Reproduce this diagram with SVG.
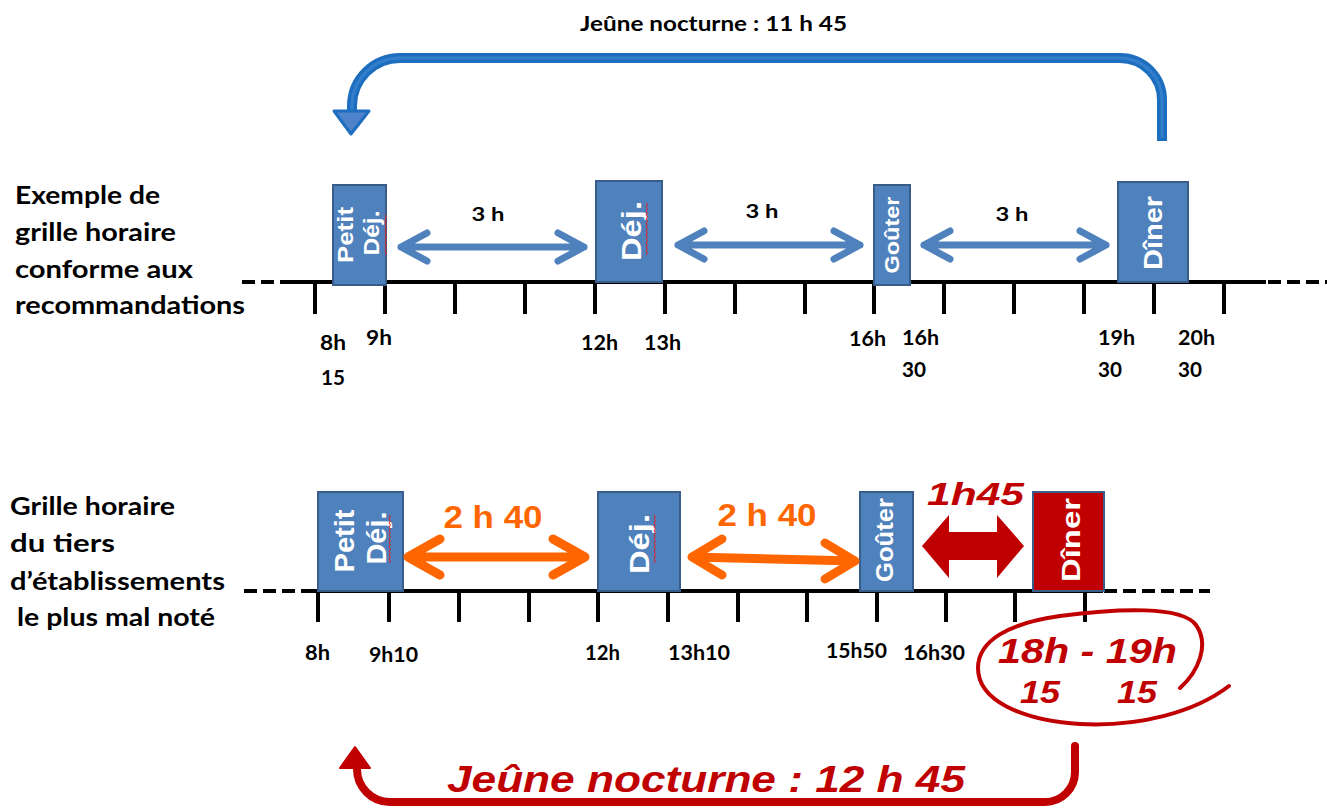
<svg xmlns="http://www.w3.org/2000/svg" width="1327" height="809" viewBox="0 0 1327 809">
<style>
.lbl{font-family:Lato,"Open Sans","Liberation Sans",sans-serif;font-weight:700;fill:#000}
.box{fill:#4F81BD;stroke:#385D8A;stroke-width:2}
.boxr{fill:#C00000;stroke:#385D8A;stroke-width:2}
.bt{font-family:"Liberation Sans",Arial,sans-serif;font-weight:700;fill:#fff;text-anchor:middle}
.axis{stroke:#000;stroke-width:4;fill:none}
.dash{stroke:#000;stroke-width:4;stroke-dasharray:13 6;fill:none}
.tick{stroke:#000;stroke-width:4;fill:none}
.red{font-family:"Liberation Sans",Arial,sans-serif;font-weight:700;font-style:italic;fill:#C00000}
.or{font-family:"Liberation Sans",Arial,sans-serif;font-weight:700;fill:#FF6600}
.wavy{fill:none;stroke:#E02020;stroke-width:1}
.barrow{fill:none;stroke:#4F81BD;stroke-width:7;stroke-linecap:round;stroke-linejoin:round}
.oarrow{fill:none;stroke:#FF6600;stroke-width:9;stroke-linecap:round;stroke-linejoin:round}
</style>

<!-- title -->
<text class="lbl" x="580" y="31" font-size="20" textLength="267" lengthAdjust="spacingAndGlyphs">Jeûne nocturne  : 11 h 45</text>

<!-- row labels -->
<g id="label-top">
<text class="lbl" x="15" y="204" font-size="25" textLength="145" lengthAdjust="spacingAndGlyphs">Exemple de</text>
<text class="lbl" x="15" y="241" font-size="25" textLength="161" lengthAdjust="spacingAndGlyphs">grille horaire</text>
<text class="lbl" x="15" y="278" font-size="25" textLength="178" lengthAdjust="spacingAndGlyphs">conforme aux</text>
<text class="lbl" x="15" y="314" font-size="25" textLength="230" lengthAdjust="spacingAndGlyphs">recommandations</text>
</g>
<g id="label-bottom">
<text class="lbl" x="10" y="515" font-size="25" textLength="165" lengthAdjust="spacingAndGlyphs">Grille horaire</text>
<text class="lbl" x="10" y="552" font-size="25" textLength="105" lengthAdjust="spacingAndGlyphs">du tiers</text>
<text class="lbl" x="10" y="590" font-size="25" textLength="215" lengthAdjust="spacingAndGlyphs">d’établissements</text>
<text class="lbl" x="17" y="626" font-size="25" textLength="198" lengthAdjust="spacingAndGlyphs">le plus mal noté</text>
</g>

<!-- top axis -->
<g id="axis-top">
<path class="dash" d="M242,282 H283"/>
<path class="axis" d="M283,282 H1266"/>
<path class="dash" d="M1268,282 H1327"/>
<path class="tick" d="M315,282v32M385,282v32M455,282v32M525,282v32M595,282v32M665,282v32M735,282v32M805,282v32M874,282v32M944,282v32M1014,282v32M1084,282v32M1154,282v32M1224,282v32"/>
<text class="lbl" font-size="21" x="320" y="350" textLength="26" lengthAdjust="spacingAndGlyphs">8h</text>
<text class="lbl" font-size="21" x="321" y="385" textLength="24" lengthAdjust="spacingAndGlyphs">15</text>
<text class="lbl" font-size="21" x="366" y="345" textLength="26" lengthAdjust="spacingAndGlyphs">9h</text>
<text class="lbl" font-size="21" x="581" y="350" textLength="37" lengthAdjust="spacingAndGlyphs">12h</text>
<text class="lbl" font-size="21" x="644" y="350" textLength="37" lengthAdjust="spacingAndGlyphs">13h</text>
<text class="lbl" font-size="21" x="849" y="346" textLength="37" lengthAdjust="spacingAndGlyphs">16h</text>
<text class="lbl" font-size="21" x="902" y="345" textLength="37" lengthAdjust="spacingAndGlyphs">16h</text>
<text class="lbl" font-size="21" x="902" y="377" textLength="24" lengthAdjust="spacingAndGlyphs">30</text>
<text class="lbl" font-size="21" x="1098" y="345" textLength="37" lengthAdjust="spacingAndGlyphs">19h</text>
<text class="lbl" font-size="21" x="1098" y="377" textLength="24" lengthAdjust="spacingAndGlyphs">30</text>
<text class="lbl" font-size="21" x="1178" y="345" textLength="37" lengthAdjust="spacingAndGlyphs">20h</text>
<text class="lbl" font-size="21" x="1178" y="377" textLength="24" lengthAdjust="spacingAndGlyphs">30</text>
</g>

<!-- bottom axis -->
<g id="axis-bottom">
<path class="dash" d="M244,591 H305"/>
<path class="axis" d="M305,591 H1103"/>
<path class="dash" d="M1104,591 H1210"/>
<path class="tick" d="M318,591v31M389,591v31M459,591v31M529,591v31M598,591v31M668,591v31M738,591v31M807,591v31M877,591v31M946,591v31M1015,591v31M1085,591v31"/>
<text class="lbl" font-size="21" x="305" y="660" textLength="25" lengthAdjust="spacingAndGlyphs">8h</text>
<text class="lbl" font-size="20" x="369" y="662" textLength="49" lengthAdjust="spacingAndGlyphs">9h10</text>
<text class="lbl" font-size="21" x="585" y="660" textLength="35" lengthAdjust="spacingAndGlyphs">12h</text>
<text class="lbl" font-size="21" x="668" y="660" textLength="62" lengthAdjust="spacingAndGlyphs">13h10</text>
<text class="lbl" font-size="21" x="826" y="658" textLength="61" lengthAdjust="spacingAndGlyphs">15h50</text>
<text class="lbl" font-size="21" x="903" y="660" textLength="62" lengthAdjust="spacingAndGlyphs">16h30</text>
</g>

<!-- top nodes -->
<g id="t-petitdej">
<rect class="box" x="333" y="185" width="53" height="100"/>
<text class="bt" font-size="22" transform="translate(353,235) rotate(-90)" textLength="56" lengthAdjust="spacingAndGlyphs">Petit</text>
<text class="bt" font-size="22" transform="translate(379,233) rotate(-90)" textLength="45" lengthAdjust="spacingAndGlyphs">Déj.</text>
<path class="wavy" d="M385,215l1.5,2l-1.5,2l1.5,2l-1.5,2l1.5,2l-1.5,2l1.5,2l-1.5,2l1.5,2l-1.5,2l1.5,2l-1.5,2l1.5,2l-1.5,2l1.5,2l-1.5,2l1.5,2l-1.5,2l1.5,2l-1.5,2"/>
</g>
<g id="t-dej">
<rect class="box" x="596" y="181" width="66" height="101"/>
<text class="bt" font-size="28" transform="translate(641,231) rotate(-90)" textLength="60" lengthAdjust="spacingAndGlyphs">Déj.</text>
<path class="wavy" d="M646,203l1.5,2l-1.5,2l1.5,2l-1.5,2l1.5,2l-1.5,2l1.5,2l-1.5,2l1.5,2l-1.5,2l1.5,2l-1.5,2l1.5,2l-1.5,2l1.5,2l-1.5,2l1.5,2l-1.5,2l1.5,2l-1.5,2l1.5,2l-1.5,2l1.5,2l-1.5,2l1.5,2l-1.5,2"/>
</g>
<g id="t-gouter">
<rect class="box" x="874" y="185" width="36" height="100"/>
<text class="bt" font-size="20" transform="translate(899,235) rotate(-90)" textLength="77" lengthAdjust="spacingAndGlyphs">Goûter</text>
</g>
<g id="t-diner">
<rect class="box" x="1118" y="182" width="70" height="100"/>
<text class="bt" font-size="26" transform="translate(1162,233) rotate(-90)" textLength="74" lengthAdjust="spacingAndGlyphs">Dîner</text>
</g>

<!-- bottom nodes -->
<g id="b-petitdej">
<rect class="box" x="318" y="492" width="85" height="99"/>
<text class="bt" font-size="28" transform="translate(354,541) rotate(-90)" textLength="63" lengthAdjust="spacingAndGlyphs">Petit</text>
<text class="bt" font-size="28" transform="translate(386,538) rotate(-90)" textLength="53" lengthAdjust="spacingAndGlyphs">Déj.</text>
<path class="wavy" d="M389,515l1.5,2l-1.5,2l1.5,2l-1.5,2l1.5,2l-1.5,2l1.5,2l-1.5,2l1.5,2l-1.5,2l1.5,2l-1.5,2l1.5,2l-1.5,2l1.5,2l-1.5,2l1.5,2l-1.5,2l1.5,2l-1.5,2l1.5,2l-1.5,2l1.5,2l-1.5,2"/>
</g>
<g id="b-dej">
<rect class="box" x="598" y="492" width="82" height="99"/>
<text class="bt" font-size="28" transform="translate(649,544) rotate(-90)" textLength="60" lengthAdjust="spacingAndGlyphs">Déj.</text>
<path class="wavy" d="M654,515l1.5,2l-1.5,2l1.5,2l-1.5,2l1.5,2l-1.5,2l1.5,2l-1.5,2l1.5,2l-1.5,2l1.5,2l-1.5,2l1.5,2l-1.5,2l1.5,2l-1.5,2l1.5,2l-1.5,2l1.5,2l-1.5,2l1.5,2l-1.5,2l1.5,2l-1.5,2"/>
</g>
<g id="b-gouter">
<rect class="box" x="860" y="492" width="53" height="99"/>
<text class="bt" font-size="23" transform="translate(893,540) rotate(-90)" textLength="84" lengthAdjust="spacingAndGlyphs">Goûter</text>
</g>
<g id="b-diner">
<rect class="boxr" x="1033" y="492" width="71" height="99"/>
<text class="bt" font-size="26" transform="translate(1080,540) rotate(-90)" textLength="84" lengthAdjust="spacingAndGlyphs">Dîner</text>
</g>

<!-- connectors -->
<g id="connectors">
<!-- top fasting arrow -->
<path d="M1162,141 V100 A42,42 0 0 0 1120,58 H400 A48,48 0 0 0 352,106 V112" fill="none" stroke="#1E6EC0" stroke-width="10" stroke-linecap="butt"/>
<path d="M1162,138 V100 A42,42 0 0 0 1120,58 H400 A48,48 0 0 0 352,106 V112" fill="none" stroke="#3C86D2" stroke-width="3" opacity="0.7"/>
<polygon points="334,111 369,111 351,134" fill="#4F83C9" stroke="#1E6EC0" stroke-width="3" stroke-linejoin="round"/>

<!-- 3 h arrows -->
<path class="barrow" d="M401,247H584M427,233L401,247L427,261M558,233L584,247L558,261"/>
<text class="lbl" font-size="19" x="488" y="221" text-anchor="middle" textLength="33" lengthAdjust="spacingAndGlyphs">3 h</text>
<path class="barrow" d="M678,245H860M704,231L678,245L704,259M834,231L860,245L834,259"/>
<text class="lbl" font-size="19" x="762" y="218" text-anchor="middle" textLength="33" lengthAdjust="spacingAndGlyphs">3 h</text>
<path class="barrow" d="M924,245H1106M950,231L924,245L950,259M1080,231L1106,245L1080,259"/>
<text class="lbl" font-size="19" x="1012" y="221" text-anchor="middle" textLength="33" lengthAdjust="spacingAndGlyphs">3 h</text>

<!-- 2 h 40 arrows -->
<path class="oarrow" d="M408,557H585M440,539L408,557L440,575M553,539L585,557L553,575"/>
<text class="or" font-size="31" x="493" y="528" text-anchor="middle" textLength="99" lengthAdjust="spacingAndGlyphs">2 h 40</text>
<path class="oarrow" d="M692,557L855,561M722,539L692,557L722,575M825,543L855,561L825,579"/>
<text class="or" font-size="31" x="767" y="526" text-anchor="middle" textLength="99" lengthAdjust="spacingAndGlyphs">2 h 40</text>

<!-- 1h45 red block arrow -->
<polygon points="922,546 949,515 949,532 997,532 997,515 1024,546 997,578 997,560 949,560 949,578" fill="#C00000"/>
<text class="red" font-size="32" x="927" y="505" textLength="97" lengthAdjust="spacingAndGlyphs">1h45</text>

<!-- hand-drawn loop -->
<path d="M1180,688 C1198,672 1210,645 1196,625 C1182,606 1120,608 1060,616 C1010,623 978,640 978,668 C978,700 1020,720 1080,724 C1140,727 1195,712 1229,686" fill="none" stroke="#C00000" stroke-width="4" stroke-linecap="round"/>
<text class="red" font-size="35" x="998" y="663" textLength="179" lengthAdjust="spacingAndGlyphs">18h - 19h</text>
<text class="red" font-size="32" x="1020" y="703" textLength="40" lengthAdjust="spacingAndGlyphs">15</text>
<text class="red" font-size="32" x="1117" y="703" textLength="40" lengthAdjust="spacingAndGlyphs">15</text>

<!-- bottom fasting arrow -->
<path d="M1075,746 V772 A30,30 0 0 1 1045,802 H390 A33,33 0 0 1 357,769 V766" fill="none" stroke="#C00000" stroke-width="8" stroke-linecap="round"/>
<polygon points="355,747 340,768 370,768" fill="#C00000" stroke="#C00000" stroke-width="2" stroke-linejoin="round"/>
<text class="red" font-size="36" x="447" y="792" textLength="518" lengthAdjust="spacingAndGlyphs">Jeûne nocturne : 12 h 45</text>
</g>
</svg>
